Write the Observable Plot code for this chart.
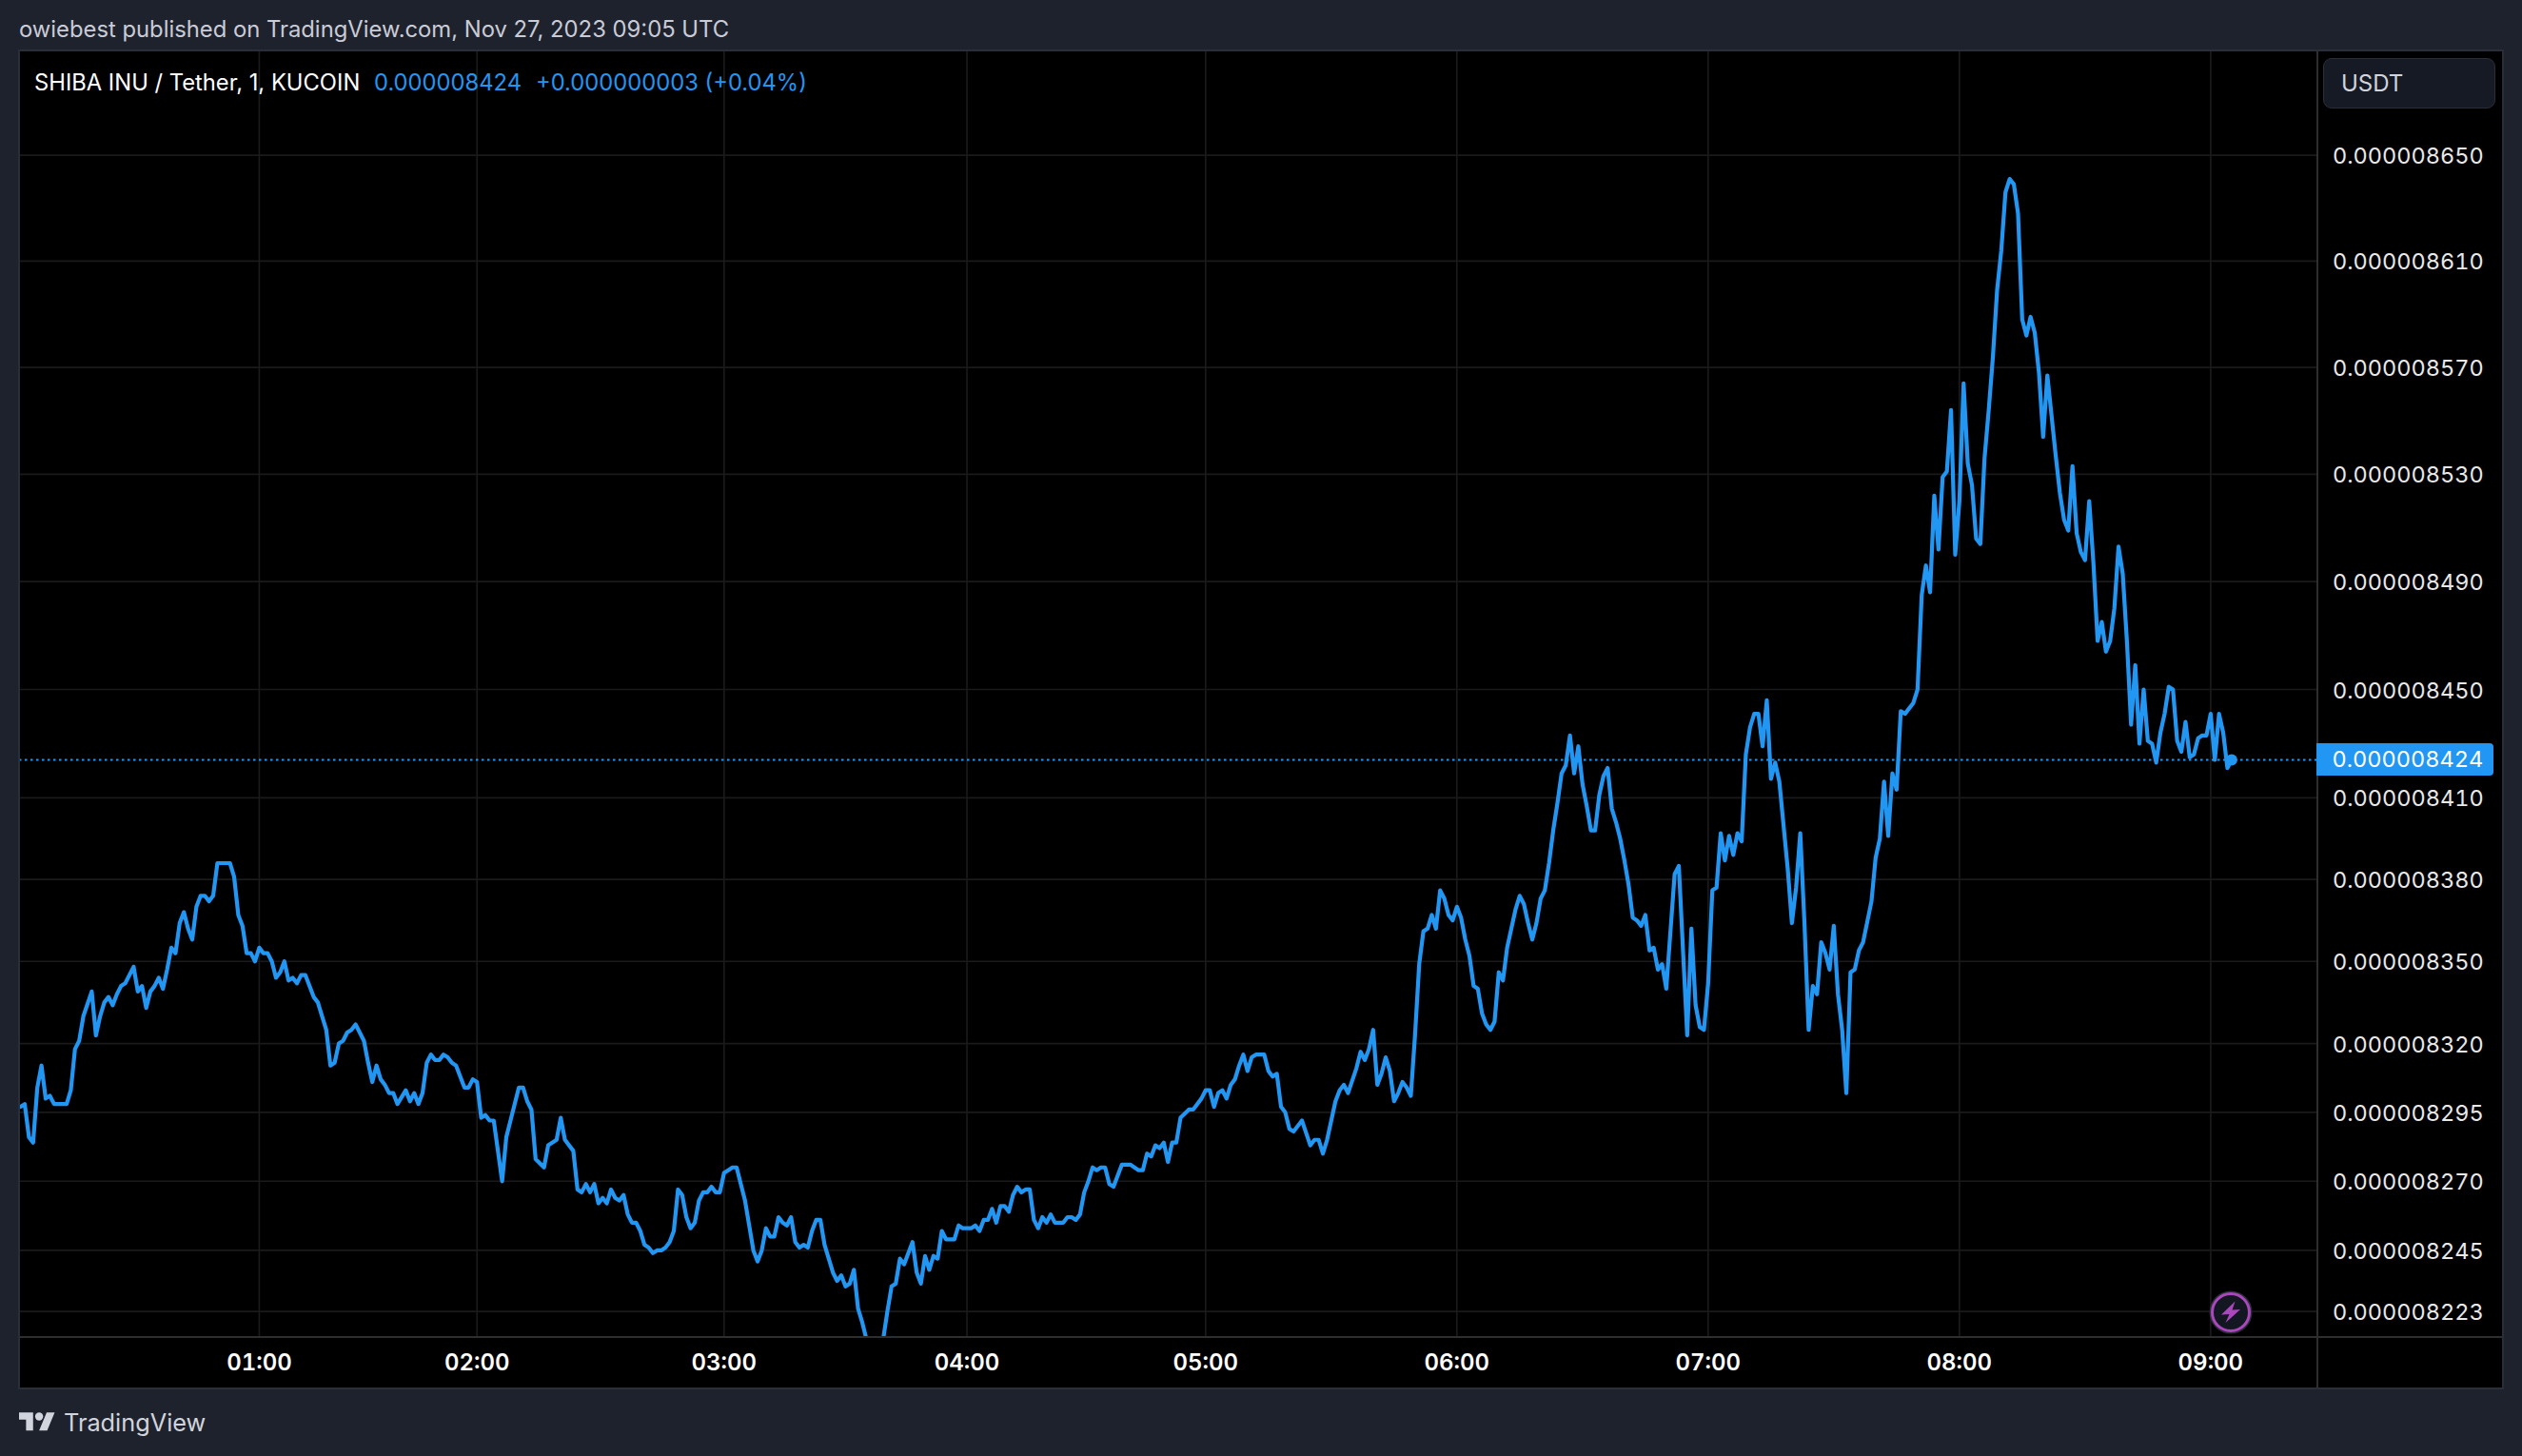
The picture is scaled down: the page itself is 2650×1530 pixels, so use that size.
<!DOCTYPE html>
<html>
<head>
<meta charset="utf-8">
<script src="https://cdn.jsdelivr.net/npm/d3@7"></script>
<script src="https://cdn.jsdelivr.net/npm/@observablehq/plot@0.6"></script>
<style>
  html, body { margin: 0; padding: 0; background: #1e222d; }
  #page { position: relative; width: 2650px; height: 1530px; background: #1e222d; overflow: hidden;
          font-family: Inter, "Liberation Sans", sans-serif; }
  #page > div, #page > svg, #chart { position: absolute; }
  .txt { white-space: nowrap; line-height: 1; }
  #chart { left: 20px; top: 53px; }
  #chart svg { display: block; background: #000; }
</style>
</head>
<body>
<div id="page">
  <div class="txt" style="left:20px;top:19px;font-size:23.8px;color:#c9cbd6;" id="published"></div>
  <div id="chart"></div>
  <div style="left:19px;top:52px;width:2608px;height:1404px;border:2px solid #2a2e39;pointer-events:none;"></div>
  <div style="left:2434px;top:53px;width:2px;height:1406px;background:#2e2e2e;"></div>
  <div style="left:20px;top:1403.7px;width:2610px;height:2px;background:#2e2e2e;"></div>
  <div class="txt" id="title" style="left:36px;top:74.5px;font-size:23.75px;color:#fff;"></div>
  <div class="txt" id="last" style="left:393px;top:74.5px;font-size:23.75px;color:#2196f3;"></div>
  <div class="txt" id="change" style="left:563px;top:74.5px;font-size:23.75px;color:#2196f3;"></div>
  <div style="left:2441px;top:61px;width:181px;height:53px;box-sizing:border-box;background:#161a25;border:1.5px solid #2a2e39;border-radius:9px;"></div>
  <div class="txt" id="currency" style="left:2460px;top:76px;font-size:24px;color:#d1d4dc;"></div>
  <div id="priceTag" style="left:2434px;width:186px;height:34px;background:#2196f3;border-radius:0 4px 4px 0;"></div>
  <div class="txt" id="priceTagText" style="left:2450.5px;font-size:23.5px;color:#fff;font-variant-numeric:tabular-nums;"></div>
  <svg style="left:2321px;top:1356px;" width="46" height="46" viewBox="0 0 46 46">
    <circle cx="23" cy="23" r="21.5" fill="#131722" stroke="#2a2e39" stroke-width="2"/>
    <circle cx="23" cy="23" r="19.5" fill="#131722" stroke="#ab47bc" stroke-width="3"/>
    <path d="M27.5 11.5 L13 25.5 L21.5 25 L17.5 34 L33 20 L24.5 20.5 Z" fill="#ab47bc"/>
  </svg>
  <svg style="left:20px;top:1484px;" width="38" height="20" viewBox="0 4 36 18.5">
    <path d="M14 22H7V11H0V4h14v18zM28 22h-8l7.5-18h8L28 22z" fill="#d1d4dc"/>
    <circle cx="20" cy="8" r="4" fill="#d1d4dc"/>
  </svg>
  <div class="txt" id="brand" style="left:67px;top:1482px;font-size:25.3px;color:#d1d4dc;"></div>
</div>

<script>
const publishedText = "owiebest published on TradingView.com, Nov 27, 2023 09:05 UTC";
const titleText = "SHIBA INU / Tether, 1, KUCOIN";
const lastText = "0.000008424";
const changeText = "+0.000000003 (+0.04%)";
const currencyText = "USDT";
const brandText = "TradingView";

const priceTicks = [8650, 8610, 8570, 8530, 8490, 8450, 8410, 8380, 8350, 8320, 8295, 8270, 8245, 8223];
const hourBars = [57, 109, 168, 226, 283, 343, 403, 463, 523];
const hourLabels = ["01:00", "02:00", "03:00", "04:00", "05:00", "06:00", "07:00", "08:00", "09:00"];
const lastPrice = 8424;
const lastBar = 528;

// bar number (1-minute bars on screen) and price in 1e-9 USDT, at the line's vertices
const bars = [
  0,1,2,3,4,5,6,7,8,11,12,13,
  14,15,17,18,19,20,21,22,23,24,25,27,
  28,29,30,31,32,33,34,35,36,37,38,39,
  40,41,42,43,44,45,46,47,50,51,52,53,
  54,55,56,57,58,59,60,61,62,63,64,65,
  66,67,68,70,71,72,73,74,75,76,77,78,
  79,80,81,82,83,84,85,86,87,88,89,90,
  92,93,94,95,96,97,98,99,100,101,102,103,
  104,105,106,107,108,109,110,111,112,113,114,115,
  116,117,119,120,121,122,123,125,126,128,129,130,
  132,133,134,135,136,137,138,139,140,141,142,143,
  144,145,146,147,148,149,150,151,152,153,154,155,
  156,157,158,159,160,161,162,163,164,165,166,167,
  168,169,170,171,172,173,174,175,176,177,178,179,
  180,181,182,183,184,185,186,187,188,189,190,191,
  192,193,194,195,196,197,198,199,200,201,202,203,
  204,205,206,207,208,209,210,211,213,214,215,216,
  217,218,219,220,221,223,224,225,227,228,229,230,
  231,232,233,234,235,236,237,238,239,240,241,242,
  243,244,245,246,247,249,250,251,252,253,254,255,
  256,257,258,259,260,261,263,265,267,268,269,270,
  271,272,273,274,275,276,277,279,280,281,282,283,
  284,285,286,287,288,289,290,291,292,293,294,295,
  297,298,299,300,301,302,303,304,306,308,309,310,
  311,312,314,315,316,317,319,320,321,322,323,324,
  325,326,327,328,329,330,331,332,333,334,335,336,
  337,338,339,340,341,342,343,344,345,346,347,348,
  349,350,351,352,353,354,355,356,357,358,359,360,
  361,362,363,364,365,366,367,368,369,370,371,372,
  373,374,375,376,377,378,379,380,381,382,383,384,
  385,386,387,388,389,390,391,392,393,395,396,398,
  399,400,401,402,403,404,405,406,407,408,409,410,
  411,412,413,414,415,416,417,418,419,420,421,422,
  423,424,425,426,427,428,429,430,431,432,433,434,
  435,436,437,438,439,440,442,443,444,445,446,447,
  448,449,450,451,452,453,454,455,456,457,458,459,
  460,461,462,463,464,465,466,467,468,469,470,471,
  472,473,474,475,476,477,478,479,480,481,482,483,
  484,486,487,488,489,490,491,492,493,494,495,496,
  497,498,499,500,501,502,503,504,505,506,507,508,
  509,510,511,512,513,514,515,516,517,518,519,520,
  521,522,523,524,525,526,527,528
];
const prices = [
  8297,8298,8286,8284,8304,8312,8300,8301,8298,8298,8303,8318,
  8321,8330,8339,8323,8330,8335,8337,8334,8338,8341,8342,8348,
  8339,8341,8333,8339,8341,8344,8340,8347,8355,8353,8364,8368,
  8362,8358,8370,8374,8374,8372,8374,8386,8386,8381,8367,8363,
  8353,8353,8350,8355,8353,8353,8350,8344,8346,8350,8343,8344,
  8342,8345,8345,8337,8335,8330,8325,8312,8313,8320,8321,8324,
  8325,8327,8324,8321,8313,8306,8312,8307,8305,8302,8302,8298,
  8303,8299,8302,8298,8302,8313,8316,8314,8314,8316,8315,8313,
  8312,8308,8304,8304,8307,8306,8293,8294,8292,8292,8281,8270,
  8286,8292,8304,8304,8299,8296,8278,8275,8283,8285,8293,8285,
  8281,8267,8266,8269,8266,8269,8262,8264,8262,8267,8264,8263,
  8265,8258,8255,8255,8252,8247,8246,8244,8245,8245,8246,8248,
  8252,8267,8265,8257,8253,8255,8263,8266,8266,8268,8266,8266,
  8273,8274,8275,8275,8269,8263,8254,8245,8241,8245,8253,8250,
  8250,8257,8255,8254,8257,8248,8246,8247,8246,8252,8256,8256,
  8247,8242,8237,8234,8236,8232,8233,8238,8224,8219,8213,8207,
  8204,8207,8213,8223,8232,8233,8242,8240,8248,8237,8233,8243,
  8238,8243,8242,8252,8249,8249,8254,8253,8253,8254,8252,8256,
  8256,8260,8255,8261,8261,8259,8265,8268,8266,8267,8267,8256,
  8253,8257,8255,8258,8255,8255,8257,8257,8256,8258,8266,8270,
  8275,8274,8275,8275,8269,8268,8276,8276,8274,8274,8280,8279,
  8283,8282,8284,8277,8284,8284,8293,8296,8296,8298,8300,8303,
  8303,8297,8302,8303,8300,8305,8307,8312,8316,8310,8315,8316,
  8316,8310,8308,8309,8297,8295,8289,8288,8292,8283,8285,8285,
  8280,8285,8299,8303,8305,8302,8311,8317,8314,8318,8325,8305,
  8309,8315,8310,8299,8302,8306,8304,8301,8323,8349,8361,8362,
  8367,8362,8376,8373,8367,8365,8370,8366,8358,8352,8341,8340,
  8331,8327,8325,8328,8346,8343,8355,8362,8369,8374,8371,8364,
  8358,8364,8373,8376,8386,8398,8408,8419,8422,8433,8419,8429,
  8415,8407,8398,8398,8411,8418,8421,8406,8401,8395,8387,8378,
  8366,8365,8363,8367,8354,8355,8347,8349,8340,8382,8385,8323,
  8362,8334,8326,8325,8342,8376,8377,8397,8387,8396,8389,8397,
  8394,8426,8436,8441,8441,8429,8446,8417,8423,8416,8400,8384,
  8364,8377,8397,8364,8325,8341,8338,8357,8353,8347,8363,8338,
  8325,8302,8346,8347,8354,8357,8372,8388,8395,8416,8396,8419,
  8413,8442,8441,8443,8445,8450,8485,8496,8486,8522,8502,8529,
  8531,8554,8500,8520,8564,8534,8526,8506,8504,8536,8554,8574,
  8599,8614,8636,8641,8639,8628,8588,8582,8589,8583,8568,8544,
  8567,8537,8523,8513,8509,8533,8508,8501,8498,8520,8497,8468,
  8475,8464,8468,8480,8503,8493,8468,8437,8459,8430,8450,8431,
  8430,8423,8434,8441,8451,8450,8431,8427,8438,8425,8426,8432,
  8433,8433,8441,8424,8441,8434,8421,8424
];

const series = bars.map((bar, i) => ({bar, price: prices[i]}));
const fmtPrice = v => (v / 1e9).toFixed(9);
const fontFamily = 'Inter, "Liberation Sans", sans-serif';

const chart = Plot.plot({
  width: 2610,
  height: 1406,
  marginLeft: 0,
  marginRight: 195,
  marginTop: 0,
  marginBottom: 54.3,
  style: {background: "#000", fontFamily, overflow: "visible"},
  x: {domain: [-0.25, 548.6], axis: null},
  y: {type: "log", domain: [8213.7, 8689.6], axis: null},
  marks: [
    Plot.ruleY(priceTicks, {stroke: "#1a1a1a", strokeWidth: 1.7}),
    Plot.ruleX(hourBars, {stroke: "#1a1a1a", strokeWidth: 1.7}),
    Plot.ruleY([lastPrice], {stroke: "#2196f3", strokeWidth: 2, strokeDasharray: "2.5 3.5"}),
    Plot.line(series, {x: "bar", y: "price", stroke: "#2196f3", strokeWidth: 4.2, clip: true, strokeLinejoin: "round"}),
    Plot.dot([{bar: lastBar, price: lastPrice}], {x: "bar", y: "price", r: 6, fill: "#2196f3"}),
    Plot.axisY({anchor: "right", ticks: priceTicks, tickFormat: fmtPrice, tickSize: 0, tickPadding: 15.5, dy: 1.5,
                label: null, fontSize: 23.5, fill: "#e8e8e8"}),
    Plot.axisX({anchor: "bottom", ticks: hourBars, tickFormat: b => hourLabels[hourBars.indexOf(b)],
                tickSize: 0, tickPadding: 18, label: null, fontSize: 24, fontWeight: 600, fill: "#fff"})
  ]
});
document.getElementById("chart").appendChild(chart);

document.getElementById("published").textContent = publishedText;
document.getElementById("title").textContent = titleText;
document.getElementById("last").textContent = lastText;
document.getElementById("change").textContent = changeText;
document.getElementById("currency").textContent = currencyText;
document.getElementById("brand").textContent = brandText;

const tagY = 53 + chart.scale("y").apply(lastPrice);
const tag = document.getElementById("priceTag");
tag.style.top = (tagY - 17) + "px";
const tagText = document.getElementById("priceTagText");
tagText.textContent = fmtPrice(lastPrice);
tagText.style.top = (tagY - 11.5) + "px";
</script>
</body>
</html>
